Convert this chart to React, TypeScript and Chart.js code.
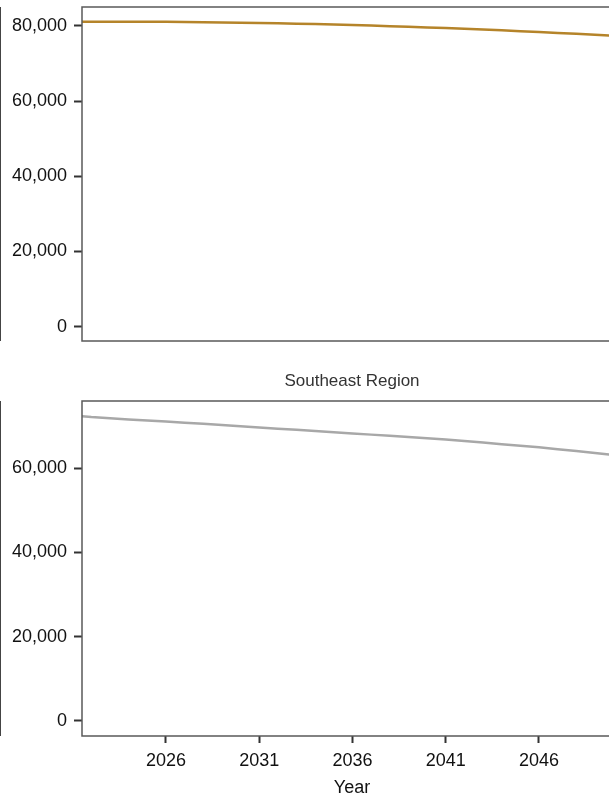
import { useEffect, useRef } from 'react';
import { Chart, registerables } from 'chart.js';
Chart.register(...registerables);

const years = [2021, 2022, 2023, 2024, 2025, 2026, 2027, 2028, 2029, 2030, 2031, 2032, 2033, 2034, 2035, 2036, 2037, 2038, 2039, 2040, 2041, 2042, 2043, 2044, 2045, 2046, 2047, 2048, 2049, 2050];
const topValues = [81100, 81100, 81100, 81100, 81080, 81050, 81010, 80960, 80900, 80830, 80750, 80660, 80560, 80450, 80330, 80200, 80060, 79910, 79750, 79580, 79400, 79210, 79010, 78800, 78580, 78350, 78110, 77860, 77610, 77350];
const southeastValues = [72600, 72200, 71900, 71600, 71350, 71100, 70850, 70600, 70300, 70000, 69700, 69430, 69150, 68870, 68590, 68300, 68010, 67720, 67420, 67130, 66830, 66480, 66120, 65750, 65380, 65000, 64560, 64110, 63650, 63180];
const yTicksTop = [0, 20000, 40000, 60000, 80000];
const yTicksBottom = [0, 20000, 40000, 60000];
const xTicks = [2026, 2031, 2036, 2041, 2046];
const stripLabel = 'Southeast Region';
const xTitle = 'Year';

const FONT = '"Liberation Sans Narrow", "Liberation Sans", Arial, sans-serif';
const REGULAR = '"Liberation Sans", Arial, sans-serif';

const framePlugin = {
  id: 'frame',
  afterDatasetsDraw(chart: any, _args: any, opts: any) {
    const { ctx, chartArea: a } = chart;
    ctx.save();
    ctx.strokeStyle = '#595959';
    ctx.lineWidth = 1.5;
    ctx.strokeRect(a.left, a.top, a.right - a.left, a.bottom - a.top);
    if (opts && opts.label) {
      ctx.fillStyle = '#333333';
      ctx.font = '17px ' + REGULAR;
      ctx.textAlign = 'center';
      ctx.textBaseline = 'middle';
      ctx.fillText(opts.label, (a.left + a.right) / 2, a.top - 20);
    }
    ctx.restore();
  },
};

function makeConfig(values: number[], color: string, yMin: number, yMax: number, yTicks: number[], bottom: boolean, label: string) {
  return {
    type: 'line' as const,
    data: {
      datasets: [
        {
          data: years.map((y, i) => ({ x: y, y: values[i] })),
          borderColor: color,
          borderWidth: 2.5,
          pointRadius: 0,
          tension: 0,
          fill: false,
        },
      ],
    },
    plugins: [framePlugin],
    options: {
      animation: false,
      responsive: false,
      maintainAspectRatio: false,
      layout: { padding: { top: bottom ? 51 : 7, right: 8, left: 0, bottom: 0 } },
      plugins: {
        legend: { display: false },
        tooltip: { enabled: false },
        frame: { label },
      },
      scales: {
        x: {
          type: 'linear',
          min: 2021.5,
          max: 2050.45,
          afterBuildTicks: (s: any) => {
            s.ticks = xTicks.map((v) => ({ value: v }));
          },
          afterFit: (s: any) => {
            s.height = bottom ? 62 : 9;
            s.paddingLeft = 0;
            s.paddingRight = 0;
          },
          border: { display: false },
          grid: {
            display: bottom,
            drawOnChartArea: false,
            drawTicks: true,
            tickLength: 7,
            tickWidth: 2,
            tickColor: '#333333',
          },
          ticks: {
            display: bottom,
            padding: 7,
            maxRotation: 0,
            color: '#111111',
            font: { family: FONT, size: 18 },
            callback: (v: any) => String(v),
          },
          title: {
            display: bottom,
            text: xTitle,
            color: '#111111',
            font: { family: FONT, size: 18, lineHeight: 1 },
            padding: { top: 0, bottom: 1 },
          },
        },
        y: {
          type: 'linear',
          min: yMin,
          max: yMax,
          afterBuildTicks: (s: any) => {
            s.ticks = yTicks.map((v) => ({ value: v }));
          },
          afterFit: (s: any) => {
            s.width = 82;
            s.paddingTop = 0;
            s.paddingBottom = 0;
          },
          border: { display: false },
          grid: {
            display: true,
            drawOnChartArea: false,
            drawTicks: true,
            tickLength: 8,
            tickWidth: 2,
            tickColor: '#333333',
          },
          ticks: {
            padding: 7,
            color: '#111111',
            font: { family: FONT, size: 18 },
            callback: (v: any) => Number(v).toLocaleString('en-US'),
          },
        },
      },
    },
  };
}

export default function App() {
  const topRef = useRef<HTMLCanvasElement>(null);
  const botRef = useRef<HTMLCanvasElement>(null);
  useEffect(() => {
    const c1 = new Chart(topRef.current as HTMLCanvasElement, makeConfig(topValues, '#B5842A', -3800, 85000, yTicksTop, false, '') as any);
    const c2 = new Chart(botRef.current as HTMLCanvasElement, makeConfig(southeastValues, '#A8A8A8', -3600, 76000, yTicksBottom, true, stripLabel) as any);
    return () => {
      c1.destroy();
      c2.destroy();
    };
  }, []);
  return (
    <div style={{ position: 'fixed', left: 0, top: 0, width: 609, height: 798, overflow: 'hidden', background: '#fff' }}>
      <div style={{ position: 'absolute', left: 0, top: 7, width: 1, height: 334, background: '#444' }} />
      <div style={{ position: 'absolute', left: 0, top: 401, width: 1, height: 335, background: '#444' }} />
      <canvas ref={topRef} width={630} height={350} style={{ position: 'absolute', left: 0, top: 0, width: 630, height: 350 }} />
      <canvas ref={botRef} width={630} height={448} style={{ position: 'absolute', left: 0, top: 350, width: 630, height: 448 }} />
    </div>
  );
}
